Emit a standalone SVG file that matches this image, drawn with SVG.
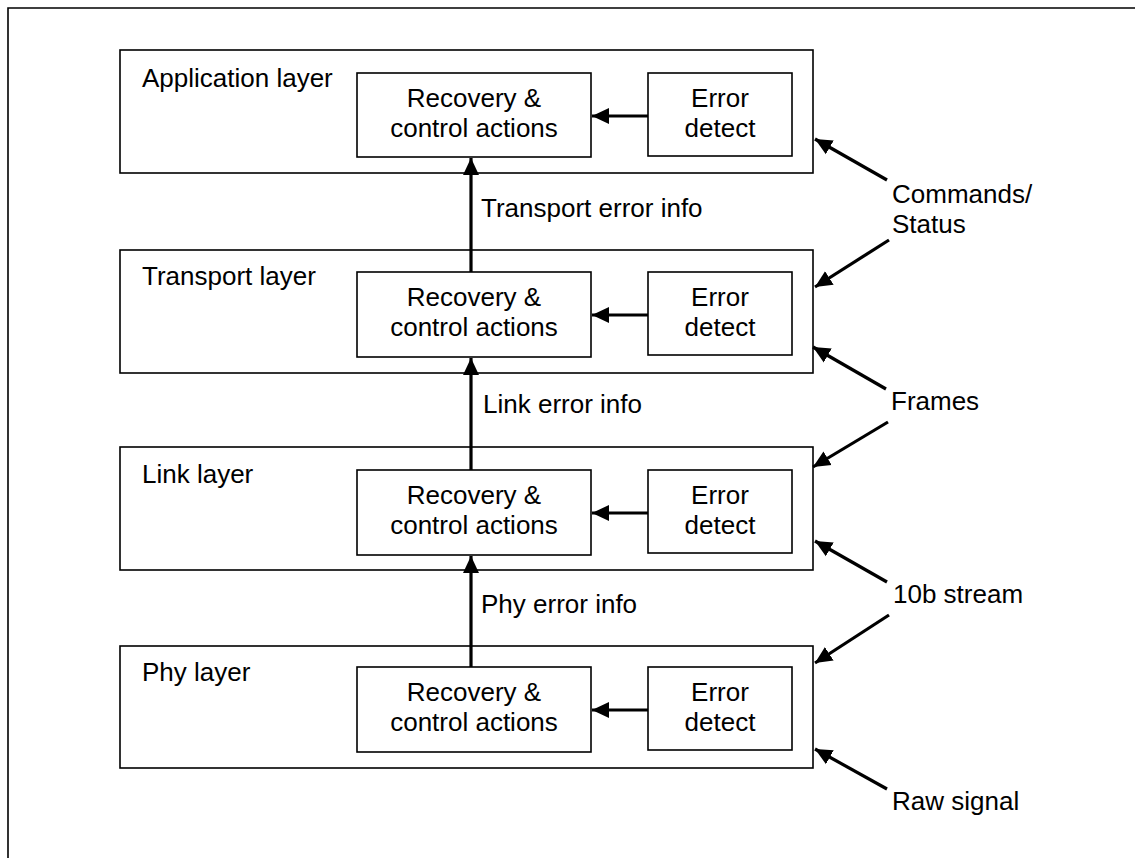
<svg xmlns="http://www.w3.org/2000/svg" width="1135" height="858" viewBox="0 0 1135 858">
<style>
.box{fill:#fff;stroke:#000;stroke-width:1.6}
.t{font-family:"Liberation Sans",Arial,sans-serif;font-size:26px;fill:#000}
.c{text-anchor:middle}
.ln{stroke:#000;stroke-width:3.2;fill:none}
</style>
<defs>
<marker id="ah" markerUnits="userSpaceOnUse" markerWidth="18" markerHeight="18" viewBox="0 0 18 18" refX="17" refY="9" orient="auto">
<path d="M0,1 L17,9 L0,17 Z" fill="#000"/>
</marker>
</defs>
<rect width="1135" height="858" fill="#fff"/>
<path d="M8,858 V8 H1135" fill="none" stroke="#000" stroke-width="1.6"/>

<g id="app">
<rect class="box" x="120" y="50" width="693" height="123"/>
<text class="t" x="142" y="87">Application layer</text>
</g>
<g id="app-rec">
<rect class="box" x="357" y="73" width="234" height="84"/>
<text class="t c" x="474" y="107">Recovery &amp;</text>
<text class="t c" x="474" y="137">control actions</text>
</g>
<g id="app-err">
<rect class="box" x="648" y="73" width="144" height="83"/>
<text class="t c" x="720" y="107">Error</text>
<text class="t c" x="720" y="137">detect</text>
</g>

<g id="transport">
<rect class="box" x="120" y="250" width="693" height="123"/>
<text class="t" x="142" y="285">Transport layer</text>
</g>
<g id="transport-rec">
<rect class="box" x="357" y="272" width="234" height="85"/>
<text class="t c" x="474" y="306">Recovery &amp;</text>
<text class="t c" x="474" y="336">control actions</text>
</g>
<g id="transport-err">
<rect class="box" x="648" y="272" width="144" height="83"/>
<text class="t c" x="720" y="306">Error</text>
<text class="t c" x="720" y="336">detect</text>
</g>

<g id="link">
<rect class="box" x="120" y="447" width="693" height="123"/>
<text class="t" x="142" y="483">Link layer</text>
</g>
<g id="link-rec">
<rect class="box" x="357" y="470" width="234" height="85"/>
<text class="t c" x="474" y="504">Recovery &amp;</text>
<text class="t c" x="474" y="534">control actions</text>
</g>
<g id="link-err">
<rect class="box" x="648" y="470" width="144" height="83"/>
<text class="t c" x="720" y="504">Error</text>
<text class="t c" x="720" y="534">detect</text>
</g>

<g id="phy">
<rect class="box" x="120" y="646" width="693" height="122"/>
<text class="t" x="142" y="681">Phy layer</text>
</g>
<g id="phy-rec">
<rect class="box" x="357" y="667" width="234" height="85"/>
<text class="t c" x="474" y="701">Recovery &amp;</text>
<text class="t c" x="474" y="731">control actions</text>
</g>
<g id="phy-err">
<rect class="box" x="648" y="667" width="144" height="83"/>
<text class="t c" x="720" y="701">Error</text>
<text class="t c" x="720" y="731">detect</text>
</g>

<g id="connectors">
<line class="ln" x1="648" y1="116" x2="592" y2="116" marker-end="url(#ah)"/>
<line class="ln" x1="648" y1="315" x2="592" y2="315" marker-end="url(#ah)"/>
<line class="ln" x1="648" y1="513" x2="592" y2="513" marker-end="url(#ah)"/>
<line class="ln" x1="648" y1="710" x2="592" y2="710" marker-end="url(#ah)"/>

<line class="ln" x1="471" y1="272" x2="471" y2="158" marker-end="url(#ah)"/>
<line class="ln" x1="471" y1="470" x2="471" y2="358" marker-end="url(#ah)"/>
<line class="ln" x1="471" y1="667" x2="471" y2="556" marker-end="url(#ah)"/>

<line class="ln" x1="887" y1="180" x2="815" y2="139" marker-end="url(#ah)"/>
<line class="ln" x1="889" y1="240" x2="815" y2="287" marker-end="url(#ah)"/>
<line class="ln" x1="886" y1="389" x2="813" y2="347" marker-end="url(#ah)"/>
<line class="ln" x1="888" y1="422" x2="813" y2="467" marker-end="url(#ah)"/>
<line class="ln" x1="887" y1="582" x2="815" y2="541" marker-end="url(#ah)"/>
<line class="ln" x1="889" y1="615" x2="815" y2="663" marker-end="url(#ah)"/>
<line class="ln" x1="887" y1="789" x2="815" y2="749" marker-end="url(#ah)"/>
</g>

<g id="labels">
<text class="t" x="481" y="217">Transport error info</text>
<text class="t" x="483" y="413">Link error info</text>
<text class="t" x="481" y="613">Phy error info</text>
<text class="t" x="892" y="203">Commands/</text>
<text class="t" x="892" y="233">Status</text>
<text class="t" x="891" y="410">Frames</text>
<text class="t" x="893" y="603">10b stream</text>
<text class="t" x="892" y="810">Raw signal</text>
</g>
</svg>
